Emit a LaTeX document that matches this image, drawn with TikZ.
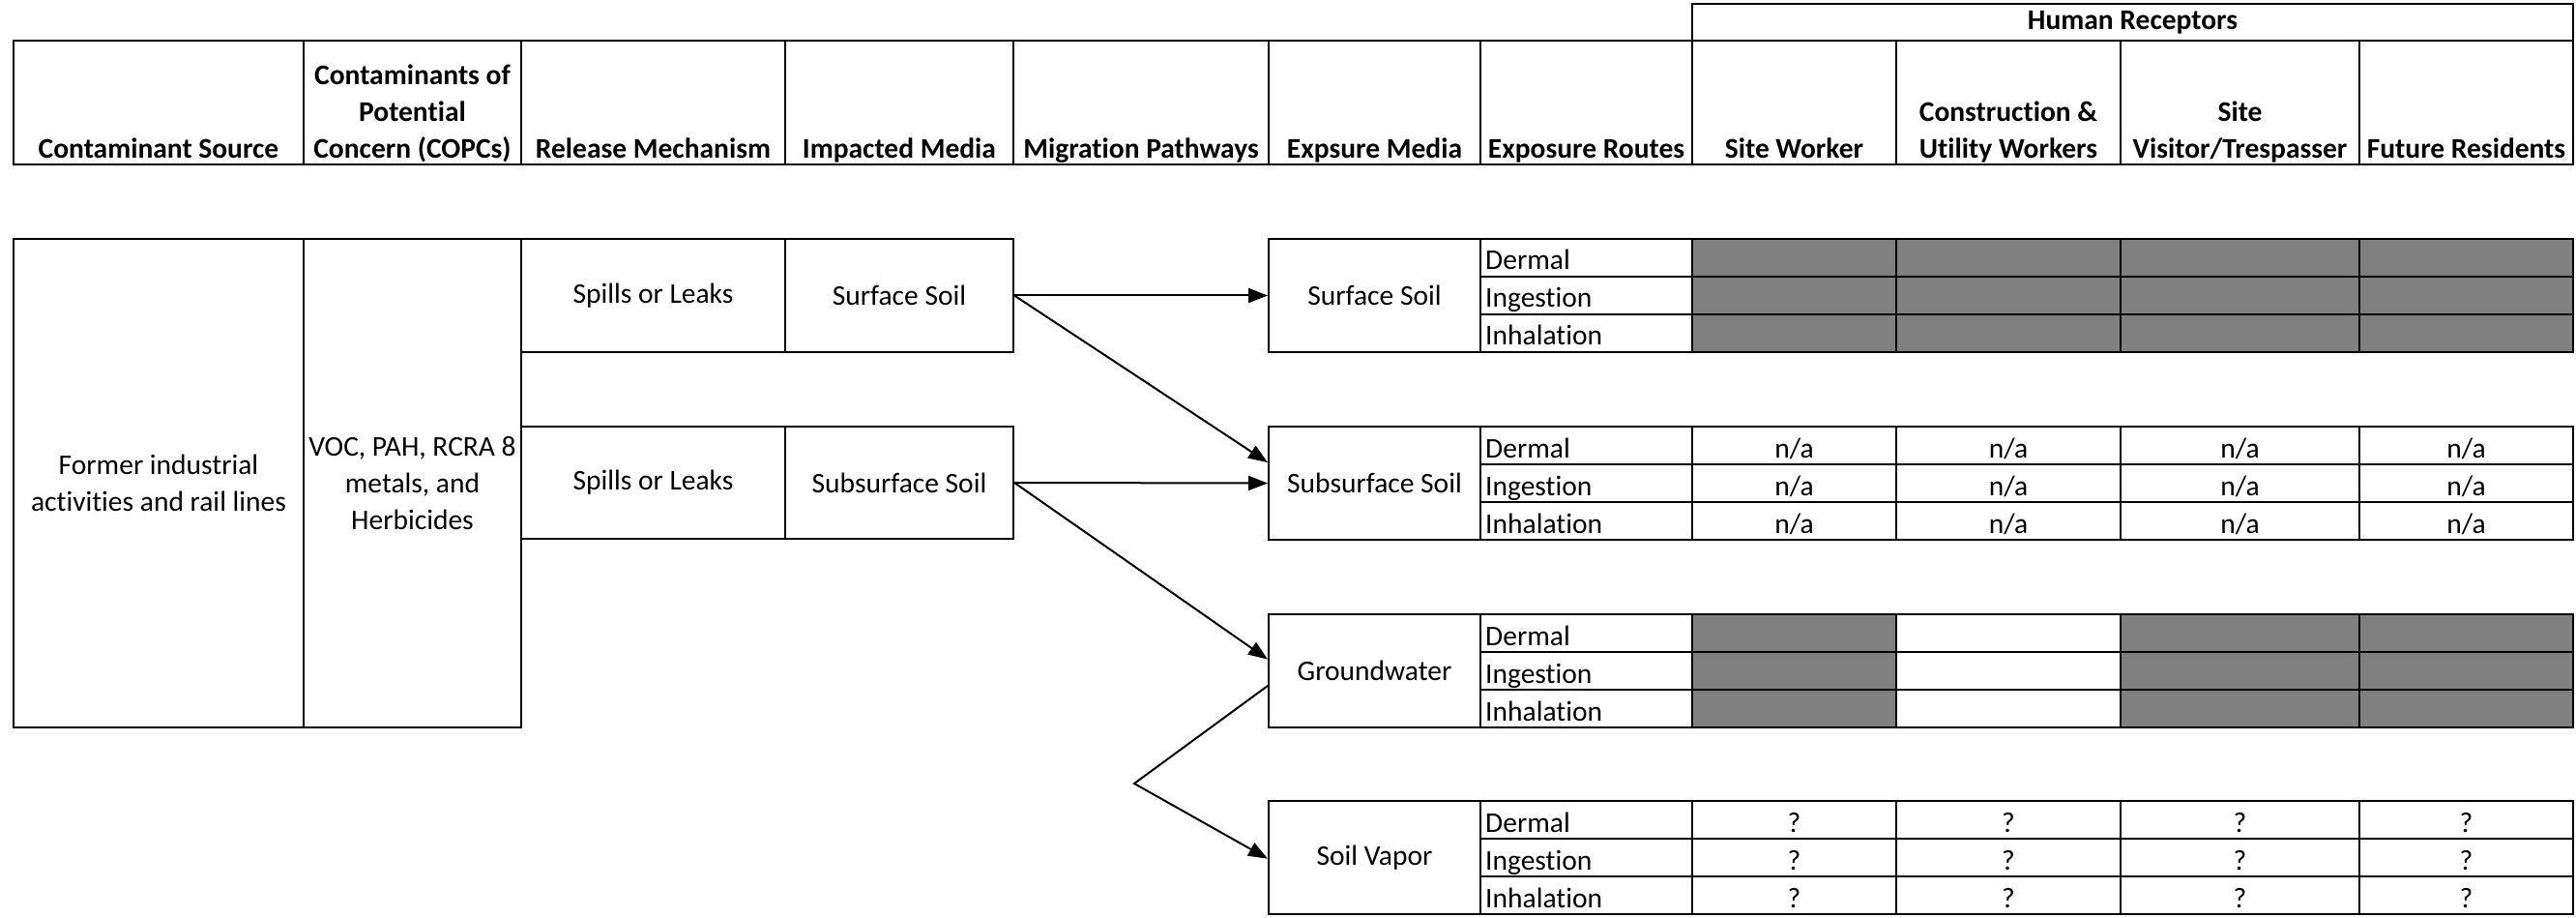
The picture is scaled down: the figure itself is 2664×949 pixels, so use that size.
\documentclass[tikz,border=0pt]{standalone}
\usepackage{fontspec}
\setmainfont{Carlito}[Ligatures=NoCommon]
\usetikzlibrary{arrows.meta,fit,calc}
\definecolor{shade}{RGB}{128,128,128}
\begin{document}
\fontsize{29.5}{38}\selectfont
\begin{tikzpicture}[x=1pt,y=-1pt,
  box/.style={draw, line width=2pt, inner sep=0pt},
  ctext/.style={align=center, inner sep=0pt, anchor=center},
  hd/.style={font=\bfseries, align=center, inner sep=0pt, text depth=0pt},
  rt/.style={anchor=base west, inner sep=0pt},
  cv/.style={anchor=base, inner sep=0pt},
  arr/.style={line width=2pt, -{Triangle[length=20pt,width=15pt]}},
  ln/.style={line width=2pt}
]
\useasboundingbox (0,0) rectangle (2664,949);

% ---------- header ----------
\node[box, fit={(1750,4) (2661,42)}] (hr) {};
\node[ctext, font=\bfseries] (hr-t) at (hr.center) {Human Receptors};
\foreach \xa/\xb/\nm/\tx in {
  14/314/hsrc/{Contaminant Source},
  314/539/hcopc/{Contaminants of\\Potential\\Concern (COPCs)},
  539/812/hrel/{Release Mechanism},
  812/1048/himp/{Impacted Media},
  1048/1312/hmig/{Migration Pathways},
  1312/1531/hexm/{Expsure Media},
  1531/1750/hexr/{Exposure Routes},
  1750/1961/hsw/{Site Worker},
  1961/2193/hcu/{Construction \&\\Utility Workers},
  2193/2440/hsv/{Site\\Visitor/Trespasser},
  2440/2661/hfr/{Future Residents}}{
  \node[box, fit={(\xa,42) (\xb,170)}] (\nm) {};
  \node[hd, above=7pt] (\nm-t) at (\nm.south) {\tx};
}

% ---------- source side ----------
\foreach \xa/\ya/\xb/\yb/\nm/\tx in {
  14/247/314/752/src/{Former industrial\\activities and rail lines},
  314/247/539/752/copc/{VOC, PAH, RCRA 8\\metals, and\\Herbicides},
  539/247/812/364/rel1/{Spills or Leaks},
  812/247/1048/364/isurf/{Surface Soil},
  539/441/812/557/rel2/{Spills or Leaks},
  812/441/1048/557/isub/{Subsurface Soil}}{
  \node[box, fit={(\xa,\ya) (\xb,\yb)}] (\nm) {};
  \node[ctext] (\nm-t) at (\nm.center) {\tx};
}

% ---------- exposure blocks ----------
\foreach \T/\nm/\lab in {247/esurf/Surface Soil, 441/esub/Subsurface Soil, 635/egw/Groundwater, 828/esv/Soil Vapor}{
  \node[box, fit={(1312,\T) (1531,\T+117)}] (\nm) {};
  \node[ctext] (\nm-t) at (\nm.center) {\lab};
  \foreach \r [count=\k from 0] in {Dermal,Ingestion,Inhalation}{
    \node[box, fit={(1531,\T+39*\k) (1750,\T+39*\k+39)}] (\nm-r\k) {};
    \node[rt] (\nm-r\k-t) at ($(\nm-r\k.south west)+(6,-8)$) {\r};
  }
}

% Surface soil receptors: all shaded
\foreach \k in {0,1,2}{
  \foreach \xa/\xb [count=\j] in {1750/1961,1961/2193,2193/2440,2440/2661}{
    \node[box, fill=shade, fit={(\xa,247+39*\k) (\xb,286+39*\k)}] (esurf-\k-\j) {};
  }
}
% Subsurface soil receptors: n/a
\foreach \k in {0,1,2}{
  \foreach \xa/\xb [count=\j] in {1750/1961,1961/2193,2193/2440,2440/2661}{
    \node[box, fit={(\xa,441+39*\k) (\xb,480+39*\k)}] (esub-\k-\j) {};
    \node[cv] (esub-\k-\j-t) at ($(esub-\k-\j.south)+(0,-8)$) {n/a};
  }
}
% Groundwater receptors
\foreach \k in {0,1,2}{
  \foreach \xa/\xb/\fc [count=\j] in {1750/1961/shade,1961/2193/white,2193/2440/shade,2440/2661/shade}{
    \node[box, fill=\fc, fit={(\xa,635+39*\k) (\xb,674+39*\k)}] (egw-\k-\j) {};
  }
}
% Soil vapor receptors: ?
\foreach \k in {0,1,2}{
  \foreach \xa/\xb [count=\j] in {1750/1961,1961/2193,2193/2440,2440/2661}{
    \node[box, fit={(\xa,828+39*\k) (\xb,867+39*\k)}] (esv-\k-\j) {};
    \node[cv] (esv-\k-\j-t) at ($(esv-\k-\j.south)+(0,-8)$) {?};
  }
}

% ---------- connectors ----------
\coordinate (bend) at (1173,810);
\draw[arr] (isurf.east) -- (esurf.west);
\draw[arr] (isurf.east) -- ($(esub.north west)!0.32!(esub.south west)$);
\draw[arr] (isub.east) -- (esub.west);
\draw[arr] (isub.east) -- ($(egw.north west)!0.40!(egw.south west)$);
\draw[arr] ($(egw.north west)!0.63!(egw.south west)$) -- (bend) -- ($(esv.north west)!0.51!(esv.south west)$);
\end{tikzpicture}
\end{document}
